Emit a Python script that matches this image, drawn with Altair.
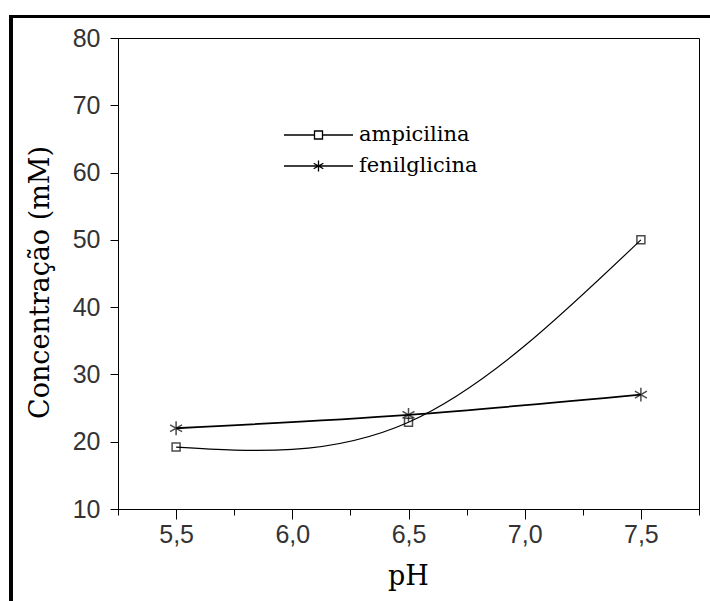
import altair as alt
import pandas as pd

# ---- data ----
ph = [5.5, 6.5, 7.5]
ampicilina = [19.2, 22.9, 50.0]
fenilglicina = [22.0, 24.0, 27.0]
series_names = ["ampicilina", "fenilglicina"]

x_ticks = [5.25, 5.5, 5.75, 6.0, 6.25, 6.5, 6.75, 7.0, 7.25, 7.5, 7.75]
y_ticks = list(range(10, 81, 5))

rows = []
for p, a in zip(ph, ampicilina):
    rows.append({"pH": p, "conc": a, "serie": "ampicilina"})
for p, f in zip(ph, fenilglicina):
    rows.append({"pH": p, "conc": f, "serie": "fenilglicina"})
df = pd.DataFrame(rows)

# ---- styling ----
ASTER = "M0,-1L0,1M-0.87,-0.5L0.87,0.5M-0.87,0.5L0.87,-0.5"
LEG_SQUARE = ("M-1,0L-0.116,0M0.116,0L1,0"
              "M-0.116,-0.116L0.116,-0.116L0.116,0.116L-0.116,0.116Z")
LEG_ASTER = ("M-1,0L1,0M0,-0.16L0,0.16"
             "M-0.14,-0.08L0.14,0.08M-0.14,0.08L0.14,-0.08")

x_major = "abs(datum.value*2 - round(datum.value*2)) < 0.001"
y_major = "datum.value % 10 == 0"

x_scale = alt.Scale(domain=[5.25, 7.75], nice=False, zero=False)
y_scale = alt.Scale(domain=[10, 80], nice=False, zero=False)

x_axis = alt.Axis(
    values=x_ticks,
    labelExpr=f"{x_major} ? replace(format(datum.value, '.1f'), '.', ',') : ''",
    tickSize={"condition": {"test": x_major, "value": 10}, "value": 6},
    labelPadding=3,
    labelOverlap=False,
    labelFlush=False,
    labelFont="Liberation Sans",
    labelFontSize=25,
    labelColor="#333",
    title="pH",
    titleFont="DejaVu Serif",
    titleFontSize=27,
    titleFontWeight="normal",
    titleColor="black",
    titleX=290,
    titleY=67,
    titleBaseline="middle",
    grid=False,
    domainColor="black",
    tickColor="black",
)
y_axis = alt.Axis(
    values=y_ticks,
    labelExpr=f"{y_major} ? datum.label : ''",
    tickSize={"condition": {"test": y_major, "value": 8}, "value": 5},
    labelPadding=10,
    labelOverlap=False,
    labelFlush=False,
    labelFont="Liberation Sans",
    labelFontSize=25,
    labelColor="#333",
    title="Concentração (mM)",
    titleFont="DejaVu Serif",
    titleFontSize=27,
    titleFontWeight="normal",
    titleColor="black",
    titleX=-78,
    titleY=244,
    titleBaseline="middle",
    grid=False,
    domainColor="black",
    tickColor="black",
)

base = alt.Chart(df)

frame = base.mark_rect(filled=False, stroke="black", strokeWidth=3).encode(
    x=alt.value(-107), x2=alt.value(640),
    y=alt.value(-21.5), y2=alt.value(620),
)

lines = base.mark_line(interpolate="natural", color="black").encode(
    x=alt.X("pH:Q", scale=x_scale, axis=x_axis),
    y=alt.Y("conc:Q", scale=y_scale, axis=y_axis),
    detail="serie:N",
    strokeWidth=alt.StrokeWidth("serie:N", legend=None,
                                scale=alt.Scale(domain=series_names, range=[1.2, 1.8])),
)

points = base.mark_point(filled=False, color="black", strokeWidth=1.5).encode(
    x=alt.X("pH:Q", scale=x_scale),
    y=alt.Y("conc:Q", scale=y_scale),
    shape=alt.Shape("serie:N", legend=None,
                    scale=alt.Scale(domain=series_names, range=["square", ASTER])),
    size=alt.Size("serie:N", legend=None,
                  scale=alt.Scale(domain=series_names, range=[64, 190])),
)

legend_layer = base.mark_point(filled=False, opacity=0).encode(
    x=alt.X("pH:Q", scale=x_scale),
    y=alt.Y("conc:Q", scale=y_scale),
    shape=alt.Shape(
        "serie:N",
        scale=alt.Scale(domain=series_names, range=[LEG_SQUARE, LEG_ASTER]),
        legend=alt.Legend(
            title=None,
            orient="none",
            legendX=165,
            legendY=87,
            padding=0,
            symbolSize=4761,
            symbolOpacity=1,
            symbolStrokeColor="black",
            symbolFillColor="transparent",
            symbolStrokeWidth=1.3,
            clipHeight=20,
            rowPadding=10,
            labelOffset=5,
            labelFont="DejaVu Serif",
            labelFontSize=21,
            labelColor="black",
        ),
    ),
)

chart = (
    alt.layer(frame, lines, points, legend_layer)
    .resolve_scale(shape="independent", size="independent")
    .properties(
        width=581,
        height=471,
        autosize=alt.AutoSizeParams(type="none"),
        padding={"left": 118, "top": 38, "right": 11, "bottom": 92},
        background="white",
    )
    .configure_view(stroke="black", strokeWidth=1)
)

chart.save("out.html", embed_options={"renderer": "svg", "actions": False})
